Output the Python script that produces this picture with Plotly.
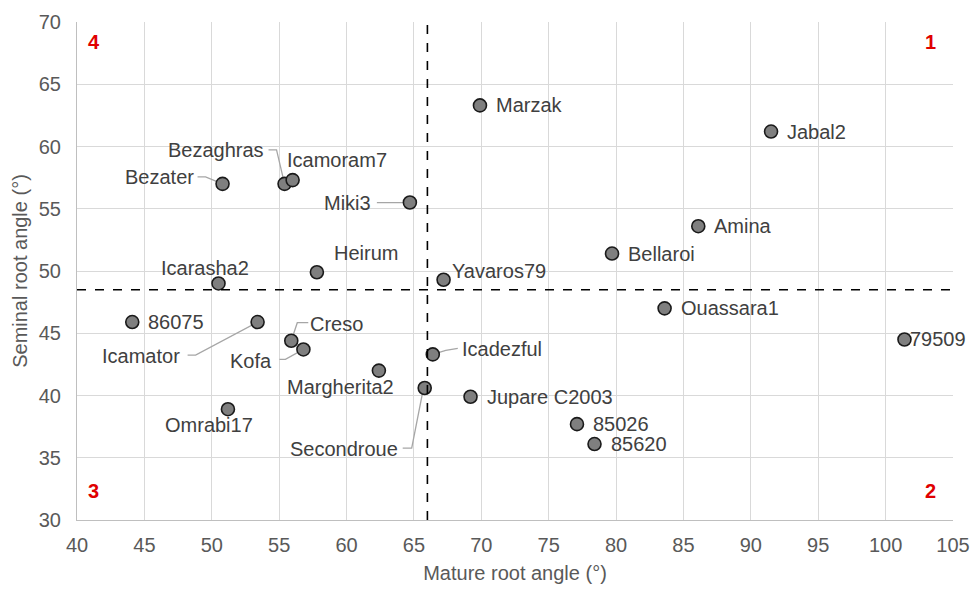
import plotly.graph_objects as go

# Genotype root angles (degrees)
genotypes = ["Marzak", "Jabal2", "Amina", "Bellaroi", "Yavaros79", "Ouassara1", "79509",
             "Icadezful", "Jupare C2003", "85026", "85620", "Secondroue", "Margherita2",
             "Kofa", "Creso", "Icamator", "86075", "Omrabi17", "Icarasha2", "Heirum",
             "Miki3", "Bezater", "Bezaghras", "Icamoram7"]
mature_angle = [69.9, 91.5, 86.1, 79.7, 67.2, 83.6, 101.4,
                66.4, 69.2, 77.1, 78.4, 65.8, 62.4,
                56.8, 55.9, 53.4, 44.1, 51.2, 50.5, 57.8,
                64.7, 50.8, 55.4, 56.0]
seminal_angle = [63.3, 61.2, 53.6, 51.4, 49.3, 47.0, 44.5,
                 43.3, 39.9, 37.7, 36.1, 40.6, 42.0,
                 43.7, 44.4, 45.9, 45.9, 38.9, 49.0, 49.9,
                 55.5, 57.0, 57.0, 57.3]

# Quadrant dividers
mature_split = 66.0
seminal_split = 48.5

# Label placement in screen pixels relative to the marker (x right, y down):
#   (dx, dy, text anchor, leader polyline from the label to the marker or None)
label_place = {
    "Marzak": (14, 0, "left", None),
    "Jabal2": (14, 0, "left", None),
    "Amina": (14, 0, "left", None),
    "Bellaroi": (14, 0, "left", None),
    "Yavaros79": (6, -9, "left", None),
    "Ouassara1": (14, 0, "left", None),
    "79509": (4, 0, "left", None),
    "Icadezful": (27, -5, "left", [(25, -6), (13, -4), (0, 0)]),
    "Jupare C2003": (14, 0, "left", None),
    "85026": (14, 0, "left", None),
    "85620": (14, 0, "left", None),
    "Secondroue": (-25, 61, "right", [(-22, 60), (-13, 60), (-2, 4), (0, 0)]),
    "Margherita2": (17, 16, "right", None),
    "Kofa": (-29, 12, "right", [(-24, 10), (-18, 10), (0, 0)]),
    "Creso": (17, -17, "left", [(17, -18), (6, -18), (0, 0)]),
    "Icamator": (-76, 34, "right", [(-70, 33), (-62, 33), (0, 0)]),
    "86075": (14, 0, "left", None),
    "Omrabi17": (-19, 16, "center", None),
    "Icarasha2": (-14, -15, "center", None),
    "Heirum": (49, -19, "center", None),
    "Miki3": (-37, 0, "right", [(-33, 0), (0, 0)]),
    "Bezater": (-27, -7, "right", [(-25, -7), (-17, -7), (0, 0)]),
    "Bezaghras": (-19, -34, "right", [(-16, -34), (-8, -34), (0, 0)]),
    "Icamoram7": (-8, -20, "left", None),
}

FONT = "Liberation Sans, Arial, sans-serif"
label_font = dict(family=FONT, size=20, color="#404040")
axis_font = dict(family=FONT, size=20, color="#595959")

fig = go.Figure()
fig.add_trace(go.Scatter(
    x=mature_angle, y=seminal_angle, mode="markers", text=genotypes,
    marker=dict(size=13, color="#7f7f7f", line=dict(color="#1a1a1a", width=1.6)),
    hoverinfo="text", showlegend=False, cliponaxis=False,
))

annotations = []
shapes = []
for name, xv, yv in zip(genotypes, mature_angle, seminal_angle):
    dx, dy, anchor, leader = label_place[name]
    annotations.append(dict(
        x=xv, y=yv, xref="x", yref="y", text=name, showarrow=False,
        xanchor=anchor, yanchor="middle", xshift=dx, yshift=-dy, font=label_font,
    ))
    if leader:
        path = "M " + " L ".join(f"{px},{-py}" for px, py in leader)
        shapes.append(dict(
            type="path", path=path, xref="x", yref="y",
            xsizemode="pixel", ysizemode="pixel", xanchor=xv, yanchor=yv,
            line=dict(color="#a6a6a6", width=1.3), layer="between",
        ))

# Quadrant numbers
quad_font = dict(family=FONT, size=20, color="#e00000")
for txt, px, py, xa, ya, xs, ys in [("4", 0, 1, "left", "top", 9, -7),
                                    ("1", 1, 1, "right", "top", -15, -7),
                                    ("3", 0, 0, "left", "bottom", 9, 16),
                                    ("2", 1, 0, "right", "bottom", -15, 16)]:
    annotations.append(dict(
        x=px, y=py, xref="paper", yref="paper", text=f"<b>{txt}</b>", showarrow=False,
        xanchor=xa, yanchor=ya, xshift=xs, yshift=ys, font=quad_font,
    ))

shapes += [
    dict(type="line", xref="x", yref="paper", x0=mature_split, x1=mature_split, y0=0, y1=1,
         line=dict(color="#000000", width=1.6, dash="dash")),
    dict(type="line", xref="paper", yref="y", x0=0, x1=1, y0=seminal_split, y1=seminal_split,
         line=dict(color="#000000", width=1.6, dash="dash")),
]

fig.update_layout(
    width=973, height=589, autosize=False,
    margin=dict(l=77, r=20, t=22, b=69, autoexpand=False),
    paper_bgcolor="white", plot_bgcolor="white",
    annotations=annotations, shapes=shapes,
    font=axis_font,
)
fig.update_xaxes(
    range=[40, 105], dtick=5, tick0=40, automargin=False,
    showgrid=True, gridcolor="#d9d9d9", gridwidth=1,
    showline=True, linecolor="#bfbfbf", linewidth=1, zeroline=False,
    ticks="", tickfont=axis_font, ticklabelstandoff=7,
    title=dict(text="Mature root angle (°)", font=axis_font, standoff=10),
)
fig.update_yaxes(
    range=[30, 70], dtick=5, tick0=30, automargin=False,
    showgrid=True, gridcolor="#d9d9d9", gridwidth=1,
    showline=True, linecolor="#bfbfbf", linewidth=1, zeroline=False,
    ticks="", tickfont=axis_font, ticklabelstandoff=11,
    title=dict(text="Seminal root angle (°)", font=axis_font, standoff=5),
)

fig.write_html("out.html")
